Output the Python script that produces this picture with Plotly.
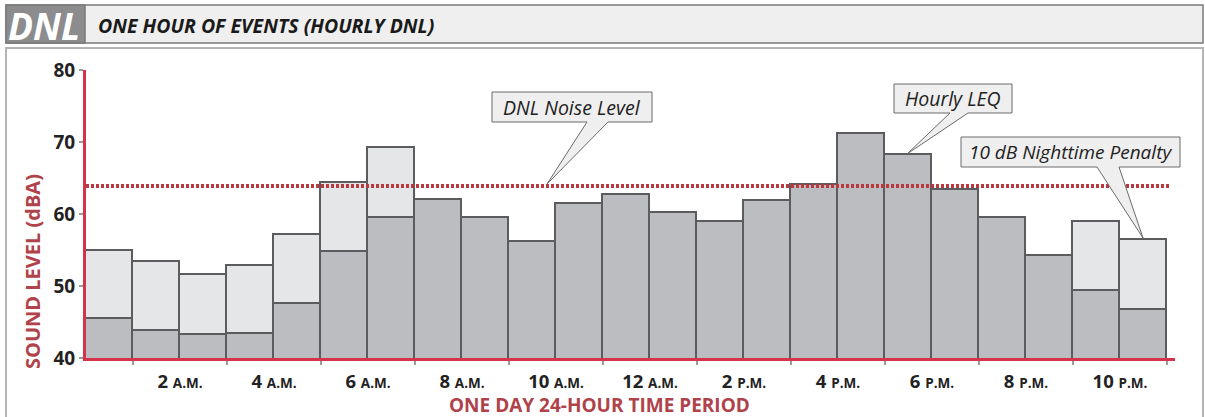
import plotly.graph_objects as go

# ---------------- data ----------------
hours = list(range(23))                      # bar i spans hour i .. i+1
hourly_leq = [45.4, 43.7, 43.2, 43.3, 47.5, 54.7, 59.5, 61.9, 59.4, 56.1, 61.4, 62.6,
              60.1, 58.9, 61.8, 64.0, 71.1, 68.2, 63.3, 59.5, 54.1, 49.3, 46.7]
with_penalty = [54.8, 53.4, 51.5, 52.8, 57.1, 64.35, 69.1, None, None, None, None, None,
                None, None, None, None, None, None, None, None, None, 58.9, 56.4]
dnl_level = 63.9
tick_positions = [2, 4, 6, 8, 10, 12, 14, 16, 18, 20, 22]
tick_numbers = ["2", "4", "6", "8", "10", "12", "2", "4", "6", "8", "10"]
tick_periods = ["A.M.", "A.M.", "A.M.", "A.M.", "A.M.", "A.M.", "P.M.", "P.M.", "P.M.", "P.M.", "P.M."]
minor_ticks = [1, 3, 5, 7, 9, 11, 13, 15, 17, 19, 21, 23]
y_ticks = [40, 50, 60, 70, 80]

FONT = "Open Sans"
W, H = 1205, 417
PL, PR, PT, PB = 86, 1175, 70, 358   # plot area in pixels
X_MAX = 23.17


def px(x):
    return (x - PL) / (PR - PL)


def py(y):
    return (PB - y) / (PB - PT)


x_centers = [h + 0.5 for h in hours]
penalty_part = [None if t is None else t - l for t, l in zip(with_penalty, hourly_leq)]

fig = go.Figure()
fig.add_trace(go.Bar(x=x_centers, y=hourly_leq, width=1, name="Hourly LEQ",
                     marker=dict(color="#bcbdc1", line=dict(color="#5c5c5e", width=1.6))))
fig.add_trace(go.Bar(x=x_centers, y=penalty_part, base=hourly_leq, width=1,
                     name="10 dB Nighttime Penalty",
                     marker=dict(color="#e5e6e8", line=dict(color="#5c5c5e", width=1.6))))
# DNL dotted line
fig.add_trace(go.Scatter(x=[0, 23.06], y=[dnl_level, dnl_level], mode="lines",
                         line=dict(color="#b8393f", width=4, dash="3px,2px"),
                         hoverinfo="skip"))

shapes = []
# header frame
shapes.append(dict(type="rect", xref="paper", yref="paper", x0=px(6), x1=px(1203),
                   y0=py(43), y1=py(5), fillcolor="#efefef",
                   line=dict(color="#7a7a7a", width=1.5), layer="below"))
shapes.append(dict(type="rect", xref="paper", yref="paper", x0=px(6), x1=px(85),
                   y0=py(43), y1=py(5), fillcolor="#8c8c8e",
                   line=dict(color="#7a7a7a", width=1.5), layer="below"))
# chart frame
shapes.append(dict(type="rect", xref="paper", yref="paper", x0=px(6), x1=px(1203),
                   y0=py(430), y1=py(48), fillcolor="rgba(0,0,0,0)",
                   line=dict(color="#b5b5b5", width=2), layer="below"))


def callout(bx0, bx1, by0, by1, base0, base1, tipx, tipy):
    path = (f"M {px(bx0)},{py(by0)} L {px(bx1)},{py(by0)} L {px(bx1)},{py(by1)} "
            f"L {px(base1)},{py(by1)} L {px(tipx)},{py(tipy)} L {px(base0)},{py(by1)} "
            f"L {px(bx0)},{py(by1)} Z")
    return dict(type="path", xref="paper", yref="paper", path=path,
                fillcolor="#efefef", line=dict(color="#6a6a6a", width=1), layer="above")


shapes.append(callout(492, 652, 92, 122, 587, 608, 547, 184))
shapes.append(callout(894, 1012, 84, 113, 950, 968, 907, 154))
shapes.append(callout(961, 1180, 137, 167, 1097, 1119, 1143, 238))

annotations = [
    dict(text="<b><i>DNL</i></b>", x=px(44), y=py(25), xref="paper", yref="paper",
         showarrow=False, font=dict(family=FONT, size=37, color="white"),
         xanchor="center", yanchor="middle"),
    dict(text="<b><i>ONE HOUR OF EVENTS (HOURLY DNL)</i></b>", x=px(96), y=py(25),
         xref="paper", yref="paper", showarrow=False,
         font=dict(family=FONT, size=19.5, color="#1a1a1a"), xanchor="left", yanchor="middle"),
    dict(text="<i>DNL Noise Level</i>", x=px(572), y=py(107), xref="paper", yref="paper",
         showarrow=False, font=dict(family=FONT, size=19.5, color="#222"),
         xanchor="center", yanchor="middle"),
    dict(text="<i>Hourly LEQ</i>", x=px(953), y=py(98), xref="paper", yref="paper",
         showarrow=False, font=dict(family=FONT, size=19.5, color="#222"),
         xanchor="center", yanchor="middle"),
    dict(text="<i>10 dB Nighttime Penalty</i>", x=px(1070.5), y=py(152), xref="paper",
         yref="paper", showarrow=False, font=dict(family=FONT, size=19, color="#222"),
         xanchor="center", yanchor="middle"),
    dict(text="<b>SOUND LEVEL (dBA)</b>", x=px(32), y=py(272), xref="paper", yref="paper",
         showarrow=False, textangle=-90, font=dict(family=FONT, size=20, color="#b0424a"),
         xanchor="center", yanchor="middle"),
    dict(text="<b>ONE DAY 24-HOUR TIME PERIOD</b>", x=px(599), y=py(405), xref="paper",
         yref="paper", showarrow=False, font=dict(family=FONT, size=19, color="#b0424a"),
         xanchor="center", yanchor="middle"),
]

tick_text = [f"<b>{n} <span style='font-size:13.5px'>{p}</span></b>"
             for n, p in zip(tick_numbers, tick_periods)]

fig.update_layout(
    width=W, height=H,
    margin=dict(l=PL, r=W - PR, t=PT, b=H - PB, pad=0),
    barmode="stack", bargap=0, showlegend=False,
    paper_bgcolor="white", plot_bgcolor="rgba(0,0,0,0)",
    font=dict(family=FONT, color="#222"),
    shapes=shapes, annotations=annotations,
    xaxis=dict(range=[0, X_MAX], tickmode="array", tickvals=tick_positions, ticktext=tick_text,
               ticks="outside", ticklen=0, tickfont=dict(family=FONT, size=18.5, color="#222"),
               ticklabelstandoff=5,
               minor=dict(tickmode="array", tickvals=minor_ticks, ticks="outside", ticklen=4,
                          tickcolor="#9a9a9a", tickwidth=1.5),
               showline=True, linecolor="#d6334a", linewidth=3, showgrid=False,
               zeroline=False, fixedrange=True),
    yaxis=dict(range=[40, 80], tickmode="array", tickvals=y_ticks,
               ticktext=[f"<b>{v}</b>" for v in y_ticks],
               ticks="outside", ticklen=4, tickcolor="#9a9a9a", tickwidth=1.5,
               tickfont=dict(family=FONT, size=19, color="#222"),
               showline=True, linecolor="#d6334a", linewidth=3, showgrid=False,
               zeroline=False, fixedrange=True),
)

fig.write_html("out.html", post_script="document.body.style.margin='0';",
               config={"displayModeBar": False})
